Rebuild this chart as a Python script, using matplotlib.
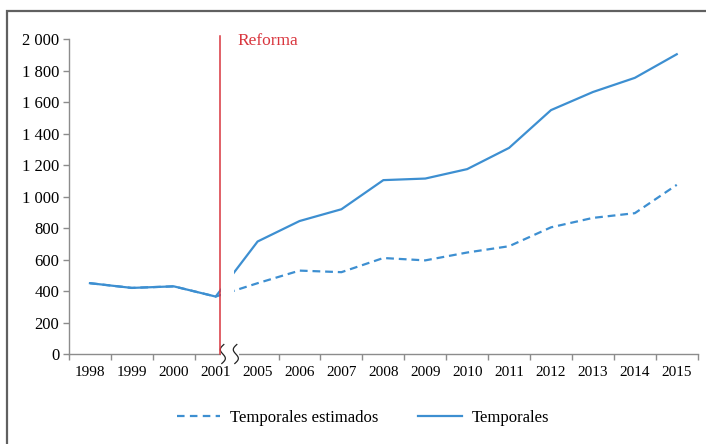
import numpy as np
import matplotlib.pyplot as plt
from matplotlib.patches import Rectangle
from matplotlib.lines import Line2D

years = ['1998', '1999', '2000', '2001', '2005', '2006', '2007', '2008',
         '2009', '2010', '2011', '2012', '2013', '2014', '2015']
temporales = [450, 420, 430, 365, 715, 845, 920, 1105, 1115, 1175, 1310, 1550, 1665, 1755, 1905]
estimados = [450, 420, 430, 365, 450, 530, 520, 610, 595, 645, 685, 805, 865, 895, 1075]
y_ticks = list(range(0, 2001, 200))

blue = '#3d8fd1'
red = '#d9363e'
grey = '#8c8c8c'

plt.rcParams['font.family'] = ['Liberation Serif', 'DejaVu Serif']

fig = plt.figure(figsize=(7.06, 4.44), dpi=100)
ax = fig.add_axes([69 / 706, 1 - 354 / 444, 628.7 / 706, 314.7 / 444])

x = np.arange(len(years))
ax.plot(x, estimados, color=blue, lw=1.6, dashes=(3.5, 2.2), zorder=2)
ax.plot(x, temporales, color=blue, lw=1.6, zorder=2.1)

ax.set_xlim(-0.5, len(years) - 0.5)
ax.set_ylim(0, 2000)

# category axis: ticks between categories, labels at centres
bounds = [b for b in np.arange(-0.5, len(years), 1.0) if abs(b - 3.5) > 0.01]
ax.set_xticks(bounds)
ax.set_xticklabels([])
ax.set_xticks(x, minor=True)
ax.set_xticklabels(years, minor=True, fontsize=11)
ax.tick_params(axis='x', which='minor', length=0, pad=9)
ax.tick_params(axis='x', which='major', length=4, width=1, color=grey, direction='out')

ax.set_yticks(y_ticks)
ax.set_yticklabels([f'{v:,}'.replace(',', ' ') for v in y_ticks], fontsize=12)
ax.tick_params(axis='y', length=4, width=1, color=grey, direction='out', pad=3)

for s in ['top', 'right']:
    ax.spines[s].set_visible(False)
for s in ['left', 'bottom']:
    ax.spines[s].set_color(grey)
    ax.spines[s].set_linewidth(1)

# axis break between 2001 and 2005
ax.add_patch(Rectangle((3.126, 0), 0.31, 2000, facecolor='white', edgecolor='none', zorder=3))
ax.add_patch(Rectangle((3.126, -25), 0.43, 50, facecolor='white', edgecolor='none',
                       zorder=3, clip_on=False))
dxp = 1 / 41.9
dyp = 2000 / 314.7
s = np.linspace(0, 1, 60)
for cx in [3.17, 3.48]:
    sx = cx + dxp * (-3 * np.sin(2 * np.pi * s) + 2 * (0.5 - s))
    sy = dyp * (9.5 - 19 * s)
    ax.plot(sx, sy, color='#222222', lw=0.9, clip_on=False, zorder=4)

# reform marker
ax.plot([3.10, 3.10], [0, 2020], color=red, lw=1.1, clip_on=False, zorder=4)
ax.text(3.53, 1962, 'Reforma', color=red, fontsize=12.5, va='baseline', ha='left')

handles = [Line2D([], [], color=blue, lw=1.6, dashes=(3.4, 2.4)),
           Line2D([], [], color=blue, lw=1.6)]
fig.legend(handles, ['Temporales estimados', 'Temporales'], loc='center',
           bbox_to_anchor=(363 / 706, 1 - 418 / 444), ncol=2, frameon=False,
           fontsize=12, handlelength=2.6, handletextpad=0.6, columnspacing=2.4)

# outer frame (cropped at right and bottom)
fig.patches.append(Rectangle((7 / 706, -0.05), 1.1, 1 - 11 / 444 + 0.05,
                             transform=fig.transFigure, fill=False,
                             edgecolor='#606060', lw=1.6))

fig.savefig('out.png', dpi=100)
